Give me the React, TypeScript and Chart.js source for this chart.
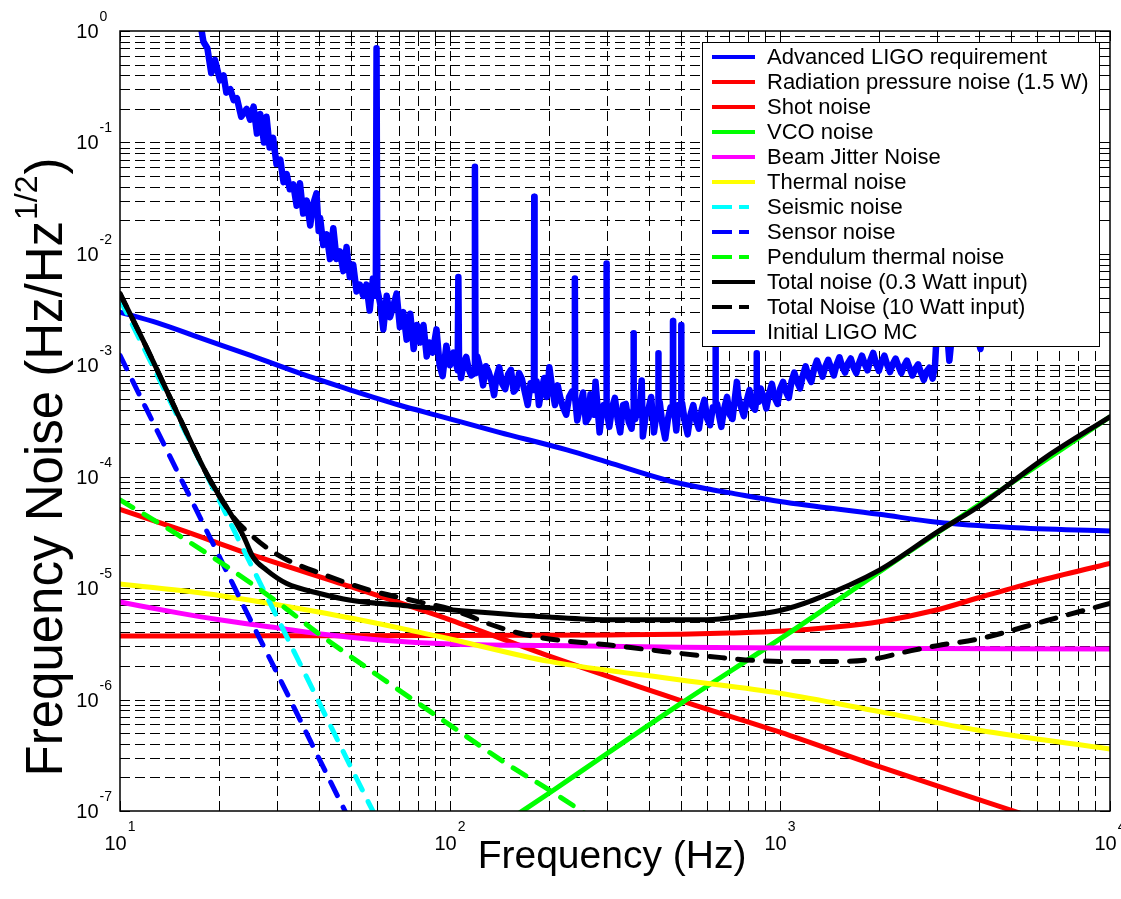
import React, { useEffect, useRef } from 'react';
import { Chart, registerables } from 'chart.js';

Chart.register(...registerables);

// ---------------- data (frequency in Hz, noise in Hz/Hz^1/2) ----------------
const aligoFreq = [10, 13, 17.5, 25, 35, 50, 70, 93, 141, 226, 300, 454, 600, 700, 1000, 2000, 3000, 5000, 10000];
const aligoVal = [3.0e-3, 2.4e-3, 1.76e-3, 1.22e-3, 8.5e-4, 6.0e-4, 4.4e-4, 3.5e-4, 2.5e-4, 1.74e-4, 1.35e-4, 9.3e-5, 7.8e-5, 7.2e-5, 6.0e-5, 4.6e-5, 3.9e-5, 3.5e-5, 3.25e-5];

const radFreq = [10, 15, 25, 50, 100, 200, 500, 1000, 2000, 5000, 6000];
const radVal = [5.1e-5, 3.4e-5, 2.0e-5, 1.03e-5, 5.2e-6, 2.45e-6, 9.8e-7, 5.1e-7, 2.5e-7, 1.02e-7, 8.5e-8];

const shotFreq = [10, 30, 100, 300, 500, 700, 1000, 1500, 2000, 3000, 4000, 6000, 10000];
const shotVal = [3.72e-6, 3.73e-6, 3.75e-6, 3.8e-6, 3.85e-6, 3.95e-6, 4.1e-6, 4.5e-6, 5.0e-6, 6.4e-6, 8.2e-6, 1.15e-5, 1.67e-5];

const vcoFreq = [150, 200, 300, 500, 1000, 2000, 3000, 5000, 10000];
const vcoVal = [8.2e-8, 1.45e-7, 3.3e-7, 9.2e-7, 3.5e-6, 1.4e-5, 3.15e-5, 8.7e-5, 3.45e-4];

const jitterFreq = [10, 15, 20, 30, 40, 60, 100, 200, 500, 1000, 10000];
const jitterVal = [7.5e-6, 6.0e-6, 5.2e-6, 4.4e-6, 3.9e-6, 3.45e-6, 3.15e-6, 3.05e-6, 2.95e-6, 2.9e-6, 2.85e-6];

const thermalFreq = [10, 20, 40, 70, 100, 200, 500, 1000, 2000, 4000, 10000];
const thermalVal = [1.09e-5, 8.6e-6, 6.1e-6, 4.4e-6, 3.5e-6, 2.2e-6, 1.5e-6, 1.14e-6, 7.8e-7, 5.3e-7, 3.6e-7];

const seismicFreq = [10, 12, 15, 20, 25, 30, 40, 50, 60];
const seismicVal = [3.9e-3, 1.3e-3, 3.4e-4, 6.1e-5, 1.6e-5, 5.4e-6, 9.6e-7, 2.5e-7, 8.5e-8];

const sensorFreq = [10, 12, 15, 20, 25, 30, 40, 50];
const sensorVal = [1.23e-3, 4.1e-4, 1.08e-4, 1.92e-5, 5.0e-6, 1.7e-6, 3.0e-7, 7.9e-8];

const pendFreq = [10, 15, 20, 30, 40, 60, 100, 150, 200, 250, 270];
const pendVal = [6.2e-5, 3.0e-5, 1.73e-5, 7.5e-6, 3.9e-6, 1.67e-6, 5.9e-7, 2.6e-7, 1.54e-7, 1.0e-7, 8.5e-8];

const total03Freq = [10, 12, 15, 18.5, 21.6, 23.7, 25.3, 27.8, 32, 40, 50, 72, 100, 200, 300, 600, 800, 1000, 1260, 2000, 3000, 4000, 6400, 10000];
const total03Val = [4.4e-3, 1.47e-3, 3.6e-4, 1.0e-4, 4.7e-5, 2.9e-5, 1.9e-5, 1.45e-5, 1.1e-5, 9.0e-6, 7.8e-6, 7.0e-6, 6.4e-6, 5.5e-6, 5.2e-6, 5.2e-6, 5.7e-6, 6.3e-6, 7.8e-6, 1.45e-5, 3.2e-5, 5.4e-5, 1.5e-4, 3.45e-4];

const total10Freq = [10, 12, 15, 18.5, 22.1, 25.3, 28.5, 32, 40.4, 57, 81, 100, 115, 126, 159, 200, 300, 400, 600, 1000, 1500, 1900, 2500, 3000, 4000, 6400, 10000];
const total10Val = [4.4e-3, 1.47e-3, 3.6e-4, 1.0e-4, 4.3e-5, 2.9e-5, 2.2e-5, 1.8e-5, 1.36e-5, 9.6e-6, 7.5e-6, 6.5e-6, 5.6e-6, 5.0e-6, 4.0e-6, 3.5e-6, 3.1e-6, 2.8e-6, 2.45e-6, 2.2e-6, 2.2e-6, 2.3e-6, 2.75e-6, 3.05e-6, 3.5e-6, 5.1e-6, 7.3e-6];

const mcFreq = [
  17.5, 17.9, 18.4, 18.9, 19.4, 20.1, 20.6, 21.0, 21.6, 22.1, 22.6, 23.3, 24.2, 24.8, 25.4, 26.0, 26.6, 27.3, 27.8, 28.4,
  29.1, 29.8, 30.6, 31.3, 32.0, 32.7, 33.5, 34.3, 35.1, 35.9, 36.8, 37.7, 38.5, 39.4, 40.0, 40.4, 41.3, 42.3, 43.3, 44.3,
  45.3, 46.4, 47.5, 48.6, 49.7, 50.9, 52.1, 53.3, 54.6, 55.8, 57.1, 58.4, 59.6, 59.9, 60.2, 61.4, 62.8, 64.3, 65.8, 67.3,
  68.9, 70.5, 72.2, 73.9, 75.8, 77.6, 79.4, 81.3, 83.1, 85.0, 86.6, 88.6, 91.0, 93.0, 95.0, 97.5, 100, 102.5, 105.5, 106,
  106.5, 107.2, 108, 110, 112, 114, 116, 118.5, 119, 119.5, 121, 123.5, 126, 128.5, 131, 133.5, 136, 138.5, 141, 144,
  147, 150, 153, 156, 159, 162, 165, 168.5, 172, 175.5, 179, 179.6, 180, 180.4, 183, 186, 189.5, 193, 196.5, 200,
  204, 208, 212, 216, 220, 225, 229.5, 234, 238.5, 239, 239.5, 243, 248, 253, 258, 263, 266.5, 270, 273, 276,
  280, 284, 288, 292, 297.5, 298, 298.5, 304, 310, 316, 322, 328, 334.5, 341, 348, 355, 359.5, 360, 360.5, 364.5,
  369, 375, 381, 384, 391.5, 399, 407, 415, 421, 427.5, 428, 428.5, 432, 440.5, 449, 457.5, 466, 473.5, 474, 474.5,
  479.5, 485, 493, 501.5, 502, 502.5, 505, 515, 525, 535.5, 546, 557, 568, 579, 590, 602, 614, 626, 637.5, 638,
  638.5, 645, 654, 664, 677.5, 691, 704.5, 718, 729, 740, 747, 762, 777, 792.5, 808, 824, 840, 849.5, 850, 850.5,
  862, 874, 891.5, 909, 927, 945, 964, 983, 1002, 1022, 1042, 1063, 1084, 1105, 1127, 1150, 1173, 1196, 1220, 1244,
  1269, 1294, 1320, 1346, 1373, 1400, 1428, 1456, 1485, 1514, 1544, 1575, 1606, 1638, 1670, 1703, 1737, 1771, 1806, 1842,
  1879, 1916, 1954, 1993, 2032, 2072, 2113, 2155, 2198, 2241, 2286, 2331, 2377, 2424, 2472, 2521, 2571, 2622, 2674, 2727,
  2781, 2836, 2900, 2950, 3000, 3080, 3200, 3260, 3350, 3600, 3900, 4050, 4200, 5000, 6000,
];
const mcVal = [
  1.2, 0.8, 0.7, 0.42, 0.55, 0.36, 0.4, 0.28, 0.3, 0.24, 0.25, 0.17, 0.2, 0.16, 0.21, 0.12, 0.18, 0.1, 0.17, 0.09,
  0.11, 0.064, 0.07, 0.044, 0.052, 0.038, 0.042, 0.027, 0.043, 0.023, 0.03, 0.018, 0.028, 0.035, 0.016, 0.021, 0.012, 0.015, 0.009, 0.017,
  0.009, 0.0105, 0.007, 0.0115, 0.0062, 0.008, 0.0046, 0.0053, 0.0042, 0.0053, 0.0031, 0.006, 0.0042, 0.7, 0.0048, 0.0036, 0.0021, 0.0042, 0.0027, 0.0034,
  0.0044, 0.0022, 0.003, 0.0017, 0.0029, 0.0014, 0.0023, 0.0016, 0.0023, 0.0012, 0.0016, 0.0013, 0.0021, 0.001, 0.0008, 0.0015, 0.001, 0.0013, 0.0009, 0.0062,
  0.0011, 0.00095, 0.00077, 0.00105, 0.00119, 0.00092, 0.00081, 0.00085, 0.0605, 0.00085, 0.0012, 0.00095, 0.00066, 0.00098, 0.00087, 0.00072, 0.00054, 0.0008, 0.00096, 0.00068,
  0.00061, 0.00083, 0.00091, 0.00058, 0.00062, 0.00085, 0.00076, 0.00058, 0.00044, 0.00069, 0.00065, 0.0006, 0.0326, 0.0006, 0.00072, 0.00044, 0.00061, 0.00077, 0.00052, 0.00096,
  0.00062, 0.00044, 0.00066, 0.00051, 0.00042, 0.00036, 0.00052, 0.00058, 0.0005, 0.006, 0.0005, 0.00032, 0.00043, 0.00057, 0.00031, 0.00034, 0.00055, 0.00048, 0.00036, 0.00071,
  0.00042, 0.00025, 0.00036, 0.00044, 0.0004, 0.0082, 0.0004, 0.00028, 0.00042, 0.00051, 0.00033, 0.00025, 0.00044, 0.00045, 0.00031, 0.00027, 0.0004, 0.00194, 0.0004, 0.00033,
  0.00046, 0.00036, 0.00073, 0.00023, 0.00035, 0.0004, 0.00052, 0.00025, 0.00034, 0.0004, 0.00128, 0.0004, 0.00047, 0.00029, 0.00022, 0.00033, 0.00042, 0.0004, 0.0025, 0.0004,
  0.00036, 0.00026, 0.00044, 0.0004, 0.0023, 0.0004, 0.00046, 0.00031, 0.00024, 0.00036, 0.00044, 0.00032, 0.00027, 0.0004, 0.00049, 0.00033, 0.00029, 0.00042, 0.0004, 0.0018,
  0.0004, 0.00045, 0.00035, 0.00028, 0.00041, 0.00052, 0.00036, 0.00033, 0.00049, 0.00071, 0.00053, 0.00042, 0.00035, 0.00048, 0.0006, 0.00043, 0.0004, 0.0005, 0.00128, 0.0005,
  0.00047, 0.00062, 0.00052, 0.00041, 0.00056, 0.00068, 0.00051, 0.00045, 0.00062, 0.00071, 0.00058, 0.00051, 0.00072, 0.00086, 0.00071, 0.00062, 0.00081, 0.00098, 0.00079, 0.00071,
  0.00093, 0.0011, 0.00094, 0.00079, 0.00098, 0.00112, 0.00095, 0.00081, 0.00102, 0.00118, 0.00097, 0.00086, 0.00104, 0.00115, 0.00096, 0.00085, 0.00105, 0.00122, 0.00103, 0.0009,
  0.00111, 0.00129, 0.00104, 0.00089, 0.00108, 0.00122, 0.00101, 0.00087, 0.00103, 0.00115, 0.00098, 0.00085, 0.00099, 0.0011, 0.00094, 0.00081, 0.00093, 0.00102, 0.00086, 0.00074,
  0.00088, 0.00095, 0.00076, 0.001, 0.0026, 0.0016, 0.0022, 0.0011, 0.0025, 0.003, 0.0022, 0.0014, 0.003, 0.004, 0.005,
];

// axes
const xMajorTicks = [10, 100, 1000, 10000];
const xTickExponents = ['1', '2', '3', '4'];
const yMajorTicks = [1e-7, 1e-6, 1e-5, 1e-4, 1e-3, 1e-2, 1e-1, 1];
const yTickExponents = ['-7', '-6', '-5', '-4', '-3', '-2', '-1', '0'];
const xTitle = 'Frequency (Hz)';
const yTitleMain = 'Frequency Noise (Hz/Hz';
const yTitleSup = '1/2';
const yTitleEnd = ')';

const legendLabels = [
  'Advanced LIGO requirement',
  'Radiation pressure noise (1.5 W)',
  'Shot noise',
  'VCO noise',
  'Beam Jitter Noise',
  'Thermal noise',
  'Seismic noise',
  'Sensor noise',
  'Pendulum thermal noise',
  'Total noise (0.3 Watt input)',
  'Total Noise (10 Watt input)',
  'Initial LIGO MC',
];

const FONT = "'Liberation Sans', Arial, Helvetica, sans-serif";

type Series = { f: number[]; v: number[]; color: string; dashed: boolean; smooth: boolean; width: number };

const series: Series[] = [
  { f: aligoFreq, v: aligoVal, color: '#0000ff', dashed: false, smooth: true, width: 5 },
  { f: radFreq, v: radVal, color: '#ff0000', dashed: false, smooth: true, width: 5 },
  { f: shotFreq, v: shotVal, color: '#ff0000', dashed: false, smooth: true, width: 5 },
  { f: vcoFreq, v: vcoVal, color: '#00ff00', dashed: false, smooth: true, width: 5 },
  { f: jitterFreq, v: jitterVal, color: '#ff00ff', dashed: false, smooth: true, width: 5 },
  { f: thermalFreq, v: thermalVal, color: '#ffff00', dashed: false, smooth: true, width: 5 },
  { f: seismicFreq, v: seismicVal, color: '#00ffff', dashed: true, smooth: true, width: 5 },
  { f: sensorFreq, v: sensorVal, color: '#0000ff', dashed: true, smooth: true, width: 5 },
  { f: pendFreq, v: pendVal, color: '#00ff00', dashed: true, smooth: true, width: 5 },
  { f: total03Freq, v: total03Val, color: '#000000', dashed: false, smooth: true, width: 5 },
  { f: total10Freq, v: total10Val, color: '#000000', dashed: true, smooth: true, width: 5 },
  { f: mcFreq, v: mcVal, color: '#0000ff', dashed: false, smooth: false, width: 6.5 },
];

function gridValues(majors: number[]): number[] {
  const out: number[] = [];
  for (let i = 0; i < majors.length - 1; i++) {
    for (let m = 1; m <= 9; m++) out.push(majors[i] * m);
  }
  out.push(majors[majors.length - 1]);
  return out;
}

const matlabPlugin = {
  id: 'matlabAxes',
  beforeDraw(chart: any) {
    const ctx = chart.ctx;
    ctx.save();
    ctx.fillStyle = '#ffffff';
    ctx.fillRect(0, 0, chart.width, chart.height);
    ctx.restore();
  },
  beforeDatasetsDraw(chart: any) {
    const ctx = chart.ctx;
    const { left, right, top, bottom } = chart.chartArea;
    const xs = chart.scales.x;
    const ys = chart.scales.y;
    ctx.save();
    ctx.strokeStyle = '#000000';
    ctx.lineWidth = 1;
    ctx.setLineDash([10, 5]);
    const xg = gridValues(xMajorTicks);
    const yg = gridValues(yMajorTicks);
    for (const v of xg) {
      const p = Math.round(xs.getPixelForValue(v)) + 0.5;
      if (p <= left + 1 || p >= right - 1) continue;
      ctx.beginPath();
      ctx.moveTo(p, bottom);
      ctx.lineTo(p, top);
      ctx.stroke();
    }
    for (const v of yg) {
      const p = Math.round(ys.getPixelForValue(v)) + 0.5;
      if (p <= top + 1 || p >= bottom - 1) continue;
      ctx.beginPath();
      ctx.moveTo(left, p);
      ctx.lineTo(right, p);
      ctx.stroke();
    }
    ctx.setLineDash([]);
    // inward tick marks
    for (const v of xg) {
      const p = Math.round(xs.getPixelForValue(v)) + 0.5;
      const len = xMajorTicks.includes(v) ? 10 : 6;
      ctx.beginPath();
      ctx.moveTo(p, bottom);
      ctx.lineTo(p, bottom - len);
      ctx.moveTo(p, top);
      ctx.lineTo(p, top + len);
      ctx.stroke();
    }
    for (const v of yg) {
      const p = Math.round(ys.getPixelForValue(v)) + 0.5;
      const len = yMajorTicks.includes(v) ? 10 : 6;
      ctx.beginPath();
      ctx.moveTo(left, p);
      ctx.lineTo(left + len, p);
      ctx.moveTo(right, p);
      ctx.lineTo(right - len, p);
      ctx.stroke();
    }
    ctx.restore();
  },
  afterDatasetsDraw(chart: any) {
    const ctx = chart.ctx;
    const { left, right, top, bottom } = chart.chartArea;
    const xs = chart.scales.x;
    const ys = chart.scales.y;
    ctx.save();
    // box
    ctx.strokeStyle = '#000000';
    ctx.lineWidth = 1.5;
    ctx.strokeRect(left, top, right - left, bottom - top);

    // y tick labels
    ctx.fillStyle = '#000000';
    ctx.textBaseline = 'alphabetic';
    yMajorTicks.forEach((v, i) => {
      const p = ys.getPixelForValue(v);
      ctx.font = `20px ${FONT}`;
      ctx.textAlign = 'right';
      ctx.fillText('10', 98.5, p + 7);
      ctx.font = `14px ${FONT}`;
      ctx.textAlign = 'left';
      ctx.fillText(yTickExponents[i], 99.5, p - 10);
    });
    // x tick labels
    xMajorTicks.forEach((v, i) => {
      const p = xs.getPixelForValue(v);
      ctx.font = `20px ${FONT}`;
      const w1 = ctx.measureText('10').width;
      ctx.font = `14px ${FONT}`;
      const w2 = ctx.measureText(xTickExponents[i]).width;
      const start = p - (w1 + w2 + 1) / 2;
      ctx.textAlign = 'left';
      ctx.font = `20px ${FONT}`;
      ctx.fillText('10', start, 850);
      ctx.font = `14px ${FONT}`;
      ctx.fillText(xTickExponents[i], start + w1 + 1, 831);
    });

    // x title
    ctx.font = `39px ${FONT}`;
    ctx.textAlign = 'center';
    ctx.fillText(xTitle, 612, 868);

    // y title
    ctx.save();
    ctx.translate(62, 468);
    ctx.rotate(-Math.PI / 2);
    ctx.textAlign = 'left';
    ctx.font = `51px ${FONT}`;
    const a = ctx.measureText(yTitleMain).width;
    const c = ctx.measureText(yTitleEnd).width;
    ctx.font = `32px ${FONT}`;
    const b = ctx.measureText(yTitleSup).width;
    const x0 = -(a + b + c) / 2;
    ctx.font = `51px ${FONT}`;
    ctx.fillText(yTitleMain, x0, 0);
    ctx.font = `32px ${FONT}`;
    ctx.fillText(yTitleSup, x0 + a + 1, -25);
    ctx.font = `51px ${FONT}`;
    ctx.fillText(yTitleEnd, x0 + a + b + 2, 0);
    ctx.restore();

    // legend
    const lx = 702, ly = 42, lw = 397, lh = 304;
    ctx.fillStyle = '#ffffff';
    ctx.fillRect(lx, ly, lw, lh);
    ctx.strokeStyle = '#000000';
    ctx.lineWidth = 1;
    ctx.strokeRect(lx + 0.5, ly + 0.5, lw, lh);
    legendLabels.forEach((label, i) => {
      const s = series[i];
      const y = 57 + 25 * i;
      ctx.strokeStyle = s.color;
      ctx.lineWidth = 4;
      ctx.lineCap = 'butt';
      ctx.setLineDash(s.dashed ? [20, 7] : []);
      ctx.beginPath();
      ctx.moveTo(712, y);
      ctx.lineTo(s.dashed ? 749 : 755, y);
      ctx.stroke();
      ctx.setLineDash([]);
      ctx.fillStyle = '#000000';
      ctx.font = `22px ${FONT}`;
      ctx.textAlign = 'left';
      ctx.textBaseline = 'middle';
      ctx.fillText(label, 767, y + 1);
    });
    ctx.restore();
  },
};

export default function App() {
  const canvasRef = useRef<HTMLCanvasElement | null>(null);

  useEffect(() => {
    document.body.style.margin = '0';
    const canvas = canvasRef.current;
    if (!canvas) return;
    const n = series.length;
    const datasets = series.map((s, i) => ({
      label: legendLabels[i],
      data: s.f.map((x, k) => ({ x, y: s.v[k] })),
      borderColor: s.color,
      backgroundColor: s.color,
      borderWidth: s.width,
      borderDash: s.dashed ? [15, 13] : [],
      borderCapStyle: 'round',
      borderJoinStyle: 'round',
      pointRadius: 0,
      pointHoverRadius: 0,
      fill: false,
      tension: 0,
      cubicInterpolationMode: s.smooth ? 'monotone' : 'default',
      order: n - i,
      clip: 0,
    }));
    const chart = new Chart(canvas, {
      type: 'line',
      data: { datasets: datasets as any },
      options: {
        responsive: false,
        animation: false,
        devicePixelRatio: 1,
        layout: { padding: { left: 120, right: 11, top: 31, bottom: 88 } },
        scales: {
          x: { type: 'logarithmic', min: 10, max: 10000, display: false },
          y: { type: 'logarithmic', min: 1e-7, max: 1, display: false },
        },
        plugins: {
          legend: { display: false },
          tooltip: { enabled: false },
        },
        events: [],
      },
      plugins: [matlabPlugin],
    });
    return () => chart.destroy();
  }, []);

  return (
    <div style={{ position: 'fixed', left: 0, top: 0, width: 1121, height: 899, background: '#fff' }}>
      <canvas ref={canvasRef} width={1121} height={899} style={{ width: 1121, height: 899, display: 'block' }} />
    </div>
  );
}
